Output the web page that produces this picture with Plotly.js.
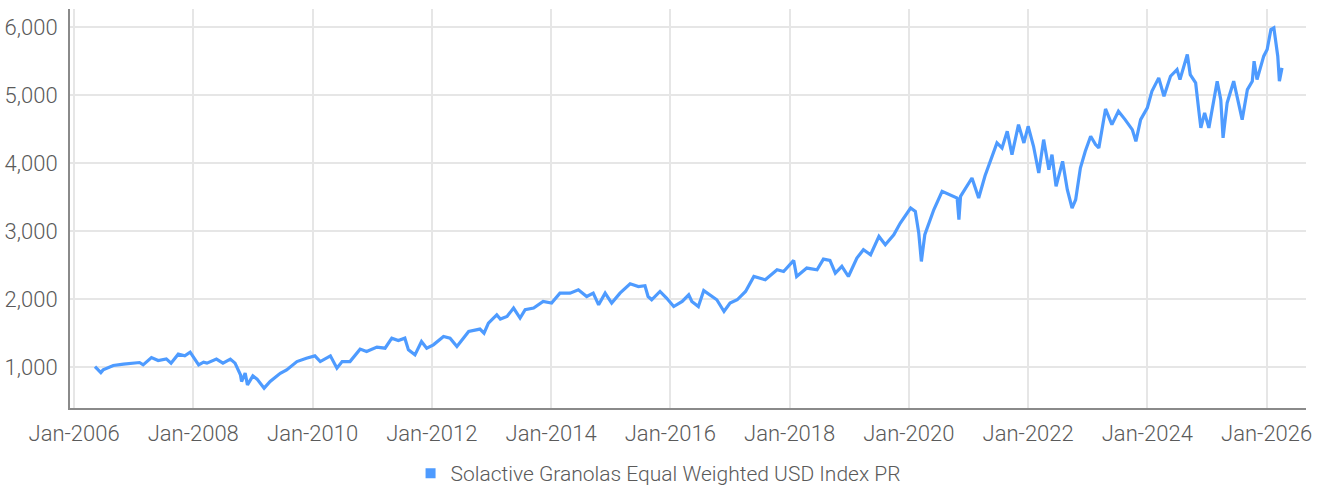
<!DOCTYPE html>
<html>
<head>
<meta charset="utf-8">
<script src="https://cdn.plot.ly/plotly-3.0.1.min.js"></script>
<style>
  html, body { margin: 0; padding: 0; background: #ffffff; }
  #chart { width: 1323px; height: 494px; }
</style>
</head>
<body>
<div id="chart"></div>
<script>
const seriesName = 'Solactive Granolas Equal Weighted USD Index PR';

const dates = [
  '2006-05-09','2006-06-14','2006-06-28','2006-08-29','2006-10-31',
  '2007-02-06','2007-02-28','2007-04-20','2007-05-31','2007-07-20','2007-08-18','2007-10-01','2007-11-10','2007-12-13',
  '2008-02-03','2008-03-04','2008-03-25','2008-05-22','2008-07-01','2008-08-15','2008-09-13','2008-10-16','2008-10-23','2008-11-14','2008-11-28','2008-12-31',
  '2009-01-26','2009-02-14','2009-03-10','2009-04-16','2009-06-17','2009-07-26','2009-09-27','2009-11-24',
  '2010-01-15','2010-02-17','2010-04-20','2010-05-30','2010-07-01','2010-08-18','2010-10-19','2010-11-28',
  '2011-01-30','2011-03-21','2011-05-01','2011-06-10','2011-07-20','2011-08-11','2011-09-20','2011-10-30','2011-12-01',
  '2012-01-11','2012-03-13','2012-04-22','2012-06-03','2012-08-14','2012-10-22','2012-11-16','2012-12-13',
  '2013-02-02','2013-02-24','2013-04-06','2013-05-16','2013-06-25','2013-07-26','2013-09-16','2013-11-13',
  '2014-01-04','2014-02-24','2014-04-27','2014-06-17','2014-08-07','2014-09-16','2014-10-19','2014-11-28',
  '2015-01-07','2015-02-27','2015-04-30','2015-06-20','2015-07-30','2015-08-18','2015-09-09','2015-10-30','2015-12-09',
  '2016-01-22','2016-03-14','2016-04-23','2016-05-12','2016-06-21','2016-07-24','2016-09-01','2016-10-12','2016-11-25',
  '2017-01-01','2017-02-14','2017-04-06','2017-05-27','2017-07-06','2017-08-05','2017-10-16','2017-11-25',
  '2018-01-26','2018-02-13','2018-04-16','2018-06-18','2018-07-27','2018-09-05','2018-10-08','2018-11-17','2018-12-27',
  '2019-02-17','2019-03-29','2019-05-12','2019-07-02','2019-08-10','2019-10-01','2019-11-10',
  '2020-01-12','2020-02-10','2020-03-02','2020-03-18','2020-04-08','2020-05-10','2020-06-02','2020-07-23','2020-09-12','2020-10-23','2020-11-03','2020-11-13',
  '2021-01-22','2021-03-04','2021-04-12','2021-05-26','2021-06-24','2021-07-25','2021-08-26','2021-09-24','2021-11-03','2021-12-06',
  '2022-01-01','2022-02-03','2022-03-07','2022-04-06','2022-05-08','2022-05-27','2022-06-21','2022-07-31','2022-08-29','2022-09-27','2022-10-19','2022-11-17','2022-12-17',
  '2023-01-19','2023-02-18','2023-03-10','2023-04-20','2023-05-29','2023-07-08','2023-08-18','2023-10-01','2023-10-23','2023-11-21',
  '2024-01-01','2024-01-29','2024-03-11','2024-04-12','2024-05-22','2024-07-01','2024-07-19','2024-09-02','2024-09-20','2024-10-23','2024-11-13','2024-11-24','2024-12-17',
  '2025-01-12','2025-03-04','2025-03-26','2025-04-09','2025-05-04','2025-06-13','2025-07-05','2025-08-04','2025-09-05','2025-10-05','2025-10-16','2025-11-03','2025-12-14',
  '2026-01-04','2026-01-27','2026-02-14','2026-02-24','2026-03-10','2026-03-20','2026-04-05'
];

const values = [
  1009, 921, 960, 1024, 1044,
  1068, 1034, 1141, 1097, 1122, 1059, 1191, 1166, 1221,
  1034, 1074, 1059, 1118, 1059, 1118, 1059, 887, 789, 912, 740, 872,
  824, 765, 691, 789, 910, 960, 1082, 1132,
  1166, 1082, 1166, 985, 1082, 1082, 1265, 1229,
  1294, 1279, 1426, 1391, 1426, 1254, 1181, 1376, 1279,
  1328, 1450, 1426, 1303, 1524, 1559, 1500, 1647,
  1769, 1706, 1744, 1868, 1721, 1843, 1868, 1965,
  1941, 2088, 2088, 2137, 2038, 2088, 1916, 2088,
  1941, 2088, 2225, 2185, 2196, 2038, 1990, 2112, 2015,
  1891, 1965, 2063, 1965, 1891, 2125, 2063, 1990, 1818,
  1941, 1990, 2112, 2332, 2309, 2284, 2431, 2406,
  2568, 2332, 2456, 2431, 2588, 2568, 2382, 2480, 2332,
  2603, 2725, 2652, 2921, 2799, 2946, 3118,
  3338, 3288, 2971, 2553, 2946, 3166, 3313, 3583, 3534, 3485, 3166, 3510,
  3779, 3485, 3813, 4122, 4294, 4221, 4465, 4122, 4563, 4294,
  4539, 4245, 3853, 4343, 3902, 4122, 3656, 4024, 3608, 3338, 3460, 3926, 4171,
  4392, 4270, 4221, 4794, 4563, 4759, 4637, 4490, 4318, 4637,
  4809, 5053, 5250, 4980, 5274, 5372, 5225, 5593, 5299, 5176, 4735, 4515, 4735,
  4515, 5201, 4931, 4368, 4882, 5201, 4980, 4637, 5078, 5201, 5495, 5225, 5569,
  5667, 5961, 5985, 5813, 5569, 5201, 5397
];

const yTickValues = [1000, 2000, 3000, 4000, 5000, 6000];

const lineColor = '#4e9bff';
const textColor = '#5a5a5a';
const fontFamily = 'Roboto, "Noto Sans", "DejaVu Sans", sans-serif';

const traces = [
  {
    type: 'scatter', mode: 'lines', x: dates, y: values,
    line: { color: lineColor, width: 3.2 },
    showlegend: false, name: seriesName
  },
  {
    type: 'scatter', mode: 'markers', x: [null], y: [null],
    marker: { symbol: 'square', size: 10, color: lineColor },
    name: seriesName, showlegend: true
  }
];

const layout = {
  width: 1323, height: 494,
  margin: { l: 70, r: 17, t: 9, b: 86 },
  paper_bgcolor: '#ffffff', plot_bgcolor: '#ffffff',
  font: { family: fontFamily, size: 22, color: textColor, weight: 300 },
  xaxis: {
    type: 'date',
    range: ['2005-12-07', '2026-08-30'],
    tick0: '2006-01-01', dtick: 'M24', tickformat: '%b-%Y',
    showgrid: true, gridcolor: '#e6e6e6', gridwidth: 2,
    showline: true, linecolor: '#8a8a8a', linewidth: 2,
    ticks: '', ticklabelstandoff: 5,
    tickfont: { family: fontFamily, size: 22, color: textColor, weight: 300 },
    zeroline: false, fixedrange: true
  },
  yaxis: {
    range: [400, 6262],
    tickvals: yTickValues, tickformat: ',d',
    showgrid: true, gridcolor: '#e6e6e6', gridwidth: 2,
    showline: true, linecolor: '#8a8a8a', linewidth: 2,
    ticks: '', ticklabelstandoff: 6,
    tickfont: { family: fontFamily, size: 22, color: textColor, weight: 300 },
    zeroline: false, fixedrange: true
  },
  legend: {
    orientation: 'h', xref: 'container', yref: 'container',
    x: 0.4974, xanchor: 'center', y: -0.004, yanchor: 'bottom',
    font: { family: fontFamily, size: 21, color: textColor, weight: 300 },
    itemwidth: 30
  },
  showlegend: true
};

Plotly.newPlot('chart', traces, layout, { displayModeBar: false, staticPlot: true });
</script>
</body>
</html>
